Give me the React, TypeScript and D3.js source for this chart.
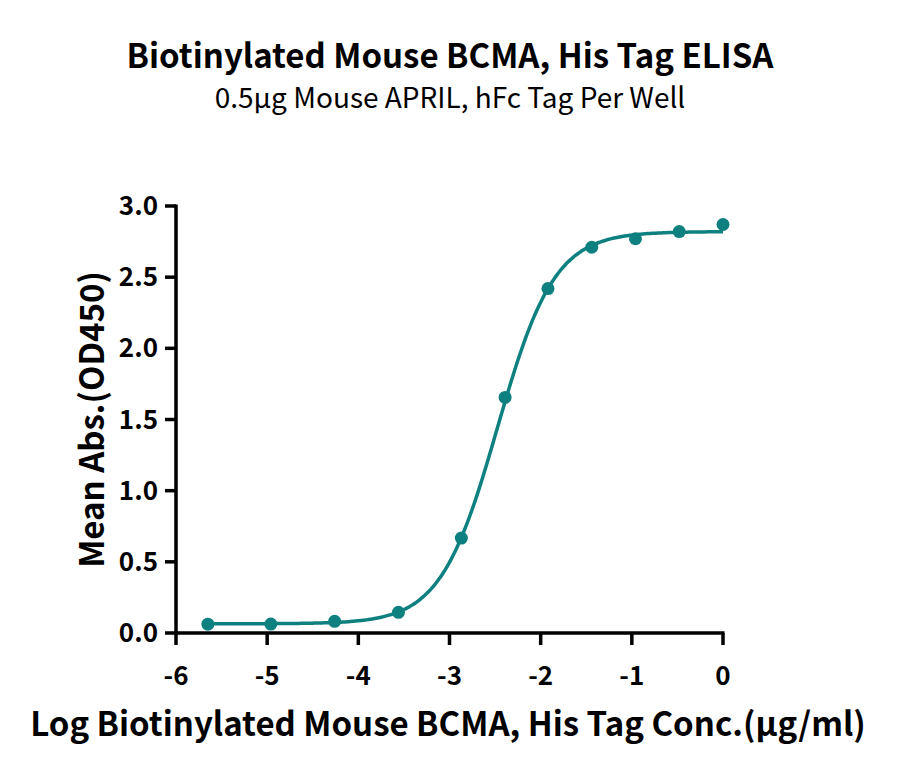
import React from 'react'
import * as d3 from 'd3'

// measured points (log conc, mean OD450)
const logConc = [-5.65, -4.96, -4.26, -3.56, -2.87, -2.39, -1.92, -1.44, -0.96, -0.48, 0.0]
const meanAbs = [0.062, 0.063, 0.082, 0.145, 0.667, 1.655, 2.42, 2.71, 2.77, 2.82, 2.87]
// 4PL fit: bottom, top, logEC50, hill
const fitParams = [0.065, 2.82, -2.474, 1.39]
const xTicks = [-6, -5, -4, -3, -2, -1, 0]
const yTicks = [0, 0.5, 1, 1.5, 2, 2.5, 3]

const FONT = '"Noto Sans CJK SC", "Noto Sans", sans-serif'
const TEAL = '#0f8080'

function App() {
  const W = 900
  const H = 776
  const x = d3.scaleLinear().domain([-6, 0]).range([176, 723])
  const y = d3.scaleLinear().domain([0, 3]).range([633, 206])

  const [bottom, top, logEC50, hill] = fitParams
  const fit = (v: number) => bottom + (top - bottom) / (1 + Math.pow(10, (logEC50 - v) * hill))
  const xs = d3.range(200).map((i) => logConc[0] + (i / 199) * (0 - logConc[0]))
  const line = d3
    .line<number>()
    .x((v) => x(v))
    .y((v) => y(fit(v)))
    .curve(d3.curveBasis)

  return (
    <svg width={W} height={H} style={{display: 'block', position: 'absolute', left: 0, top: 0}}>
      <rect width={W} height={H} fill="#fff" />
      <text x={450} y={68} textAnchor="middle" fontFamily={FONT} fontWeight={700} fontSize={33} fill="#000">
        Biotinylated Mouse BCMA, His Tag ELISA
      </text>
      <text x={450} y={108} textAnchor="middle" fontFamily={FONT} fontSize={28} fill="#000">
        0.5μg Mouse APRIL, hFc Tag Per Well
      </text>

      {/* axes */}
      <g stroke="#000" strokeWidth={3.5} fill="none">
        <line x1={x(-6)} x2={x(-6)} y1={y(3) - 1.5} y2={y(0) + 1.5} />
        <line x1={x(-6) - 1.5} x2={x(0) + 1.5} y1={y(0)} y2={y(0)} />
        {yTicks.map((t) => (
          <line key={'yt' + t} x1={x(-6) - 11} x2={x(-6)} y1={y(t)} y2={y(t)} />
        ))}
        {xTicks.map((t) => (
          <line key={'xt' + t} x1={x(t)} x2={x(t)} y1={y(0)} y2={y(0) + 12} />
        ))}
      </g>
      <g fontFamily={FONT} fontWeight={700} fontSize={26} fill="#000">
        {yTicks.map((t) => (
          <text key={'yl' + t} x={x(-6) - 18} y={y(t)} dy="0.35em" textAnchor="end">
            {d3.format('.1f')(t)}
          </text>
        ))}
        {xTicks.map((t) => (
          <text key={'xl' + t} x={x(t)} y={685} textAnchor="middle">
            {t === 0 ? '0' : '-' + Math.abs(t)}
          </text>
        ))}
      </g>

      <text
        transform={`translate(104,${y(1.5)}) rotate(-90)`}
        textAnchor="middle"
        fontFamily={FONT}
        fontWeight={700}
        fontSize={33}
        fill="#000"
      >
        Mean Abs.(OD450)
      </text>
      <text x={448} y={736} textAnchor="middle" fontFamily={FONT} fontWeight={700} fontSize={33} fill="#000">
        Log Biotinylated Mouse BCMA, His Tag Conc.(μg/ml)
      </text>

      <path d={line(xs) || ''} fill="none" stroke={TEAL} strokeWidth={3.5} />
      {logConc.map((v, i) => (
        <circle key={i} cx={x(v)} cy={y(meanAbs[i])} r={6.5} fill={TEAL} />
      ))}
    </svg>
  )
}
export default App
